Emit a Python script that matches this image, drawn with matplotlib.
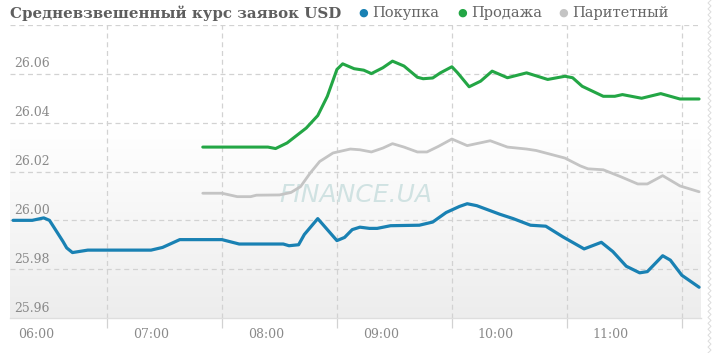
import matplotlib.pyplot as plt
import matplotlib.transforms as mtransforms
import numpy as np

# Покупка
buy_time = ['05:48', '05:58', '06:04', '06:07', '06:14', '06:16', '06:19', '06:27', '07:00',
            '07:06', '07:15', '07:37', '07:46', '08:09', '08:12', '08:17', '08:20', '08:27',
            '08:37', '08:41', '08:45', '08:49', '08:54', '08:58', '09:05', '09:20', '09:27',
            '09:34', '09:41', '09:45', '09:50', '10:02', '10:09', '10:18', '10:26', '10:35',
            '10:46', '10:55', '11:01', '11:08', '11:15', '11:19', '11:27', '11:31', '11:37', '11:46']
buy_val = [26.000, 26.000, 26.001, 26.000, 25.9914, 25.9887, 25.9868, 25.9878, 25.9878,
           25.9889, 25.9921, 25.9921, 25.9903, 25.9903, 25.9896, 25.9900, 25.9942, 26.0007,
           25.9917, 25.9930, 25.9962, 25.9972, 25.9967, 25.9967, 25.9978, 25.9980, 25.9993,
           26.0032, 26.0057, 26.0068, 26.0060, 26.0025, 26.0007, 25.9980, 25.9976, 25.9932,
           25.9883, 25.9910, 25.9872, 25.9812, 25.9785, 25.9790, 25.9855, 25.9837, 25.9775, 25.9726]

# Продажа
sell_time = ['07:27', '08:01', '08:05', '08:11', '08:21', '08:27', '08:32', '08:37', '08:40',
             '08:46', '08:51', '08:55', '09:01', '09:06', '09:12', '09:19', '09:22', '09:27',
             '09:31', '09:37', '09:40', '09:46', '09:52', '09:58', '10:06', '10:16', '10:27',
             '10:36', '10:40', '10:45', '10:56', '11:02', '11:06', '11:16', '11:26', '11:36', '11:46']
sell_val = [26.0300, 26.0300, 26.0294, 26.0317, 26.0378, 26.0429, 26.0508, 26.0618, 26.0641,
            26.0621, 26.0615, 26.0601, 26.0625, 26.0652, 26.0632, 26.0586, 26.0580, 26.0583,
            26.0604, 26.0629, 26.0604, 26.0547, 26.0570, 26.0611, 26.0584, 26.0604, 26.0577,
            26.0590, 26.0584, 26.0549, 26.0508, 26.0508, 26.0515, 26.0500, 26.0519, 26.0497, 26.0497]

# Паритетный
par_time = ['07:27', '07:37', '07:45', '07:52', '07:55', '08:07', '08:13', '08:18', '08:23',
            '08:28', '08:35', '08:44', '08:49', '08:55', '09:01', '09:06', '09:12', '09:19',
            '09:24', '09:30', '09:37', '09:45', '09:57', '10:06', '10:16', '10:21', '10:36',
            '10:44', '10:48', '10:56', '11:05', '11:14', '11:19', '11:27', '11:36', '11:46']
par_val = [26.0111, 26.0111, 26.0097, 26.0097, 26.0103, 26.0104, 26.0114, 26.0138, 26.0193,
           26.0241, 26.0276, 26.0292, 26.0289, 26.0280, 26.0296, 26.0314, 26.0300, 26.0280,
           26.0280, 26.0303, 26.0333, 26.0306, 26.0326, 26.0300, 26.0292, 26.0286, 26.0255,
           26.0223, 26.0211, 26.0207, 26.0179, 26.0149, 26.0149, 26.0183, 26.0141, 26.0117]

y_ticks = [25.96, 25.98, 26.00, 26.02, 26.04, 26.06]
x_labels = ['06:00', '07:00', '08:00', '09:00', '10:00', '11:00']
grid_x = ['06:37', '07:37', '08:37', '09:37', '10:37', '11:37']


def hrs(t):
    h, m = t.split(':')
    return int(h) + int(m) / 60


plt.rcParams['font.family'] = 'DejaVu Serif'

fig = plt.figure(figsize=(7.2, 3.53), dpi=100)
ax = fig.add_axes([10 / 720, 35 / 353, 691 / 720, 293 / 353])

# gradient background of the plot area
grad = np.ones((100, 1, 3))
t = np.linspace(0, 1, 100)[:, None]  # 0 = top
shade = np.clip((t - 0.35) / 0.65, 0, 1) * 0.07
grad = grad - shade[:, :, None]
ax.imshow(grad, extent=[0, 1, 0, 1], transform=ax.transAxes, aspect='auto', zorder=0)

ax.set_xlim(hrs('05:46') + 0.4 / 60, hrs('11:47'))
ax.set_ylim(25.96, 26.08)

grid_kw = dict(color='#d2d2d2', lw=0.9, dashes=(4, 3))
for v in y_ticks[1:] + [26.08]:
    ax.axhline(v, zorder=1, **grid_kw)
for g in grid_x:
    ax.axvline(hrs(g), zorder=1, **grid_kw)

ax.plot([hrs(t) for t in par_time], par_val, color='#c4c4c4', lw=2.0, zorder=3,
        solid_joinstyle='round', solid_capstyle='round')
ax.plot([hrs(t) for t in sell_time], sell_val, color='#23a645', lw=2.2, zorder=4,
        solid_joinstyle='round', solid_capstyle='round')
ax.plot([hrs(t) for t in buy_time], buy_val, color='#1981b3', lw=2.3, zorder=5,
        solid_joinstyle='round', solid_capstyle='round')

# watermark
ax.text(0.5, 0.42, 'FINANCE.UA', transform=ax.transAxes, ha='center', va='center',
        fontsize=18, style='italic', family='DejaVu Sans', color='#d0e2e2', zorder=2)

for s in ['top', 'left', 'right']:
    ax.spines[s].set_visible(False)
ax.spines['bottom'].set_color('#dedede')
ax.spines['bottom'].set_linewidth(1)

ax.set_yticks([])
ylab = mtransforms.blended_transform_factory(ax.transAxes, ax.transData)
for v in y_ticks:
    ax.text(0.006, v + 0.0014, '%.2f' % v, transform=ylab, ha='left', va='bottom',
            fontsize=9, color='#8a8a8a', zorder=6)

ax.set_xticks([hrs(x) for x in x_labels])
ax.set_xticklabels(x_labels, fontsize=9, color='#8a8a8a')
ax.tick_params(axis='x', which='major', length=0, pad=7)
ax.set_xticks([hrs(g) for g in grid_x], minor=True)
ax.tick_params(axis='x', which='minor', length=7, color='#d2d2d2', width=0.9)

# title and legend
fig.text(10 / 720, 1 - 13 / 353, 'Средневзвешенный курс заявок USD', fontsize=10.8,
         fontweight='bold', color='#5e5e5e', va='center', ha='left')
legend_items = [('Покупка', '#1981b3', 363), ('Продажа', '#23a645', 462),
                ('Паритетный', '#c4c4c4', 563)]
for name, col, px in legend_items:
    fig.text(px / 720, 1 - 13 / 353, '\u25cf', color=col, fontsize=8, va='center',
             ha='center', family='DejaVu Sans')
    fig.text((px + 9) / 720, 1 - 13 / 353, name, color='#666666', fontsize=10.5, va='center',
             ha='left')

# torn right edge
zy = np.linspace(0, 1, 120)
zx = 708 / 720 + np.where(np.arange(120) % 2 == 0, 0, 3 / 720)
fig.add_artist(plt.Line2D(zx, zy, color='#dcdcdc', lw=0.7))

fig.savefig('out.png', dpi=100)
